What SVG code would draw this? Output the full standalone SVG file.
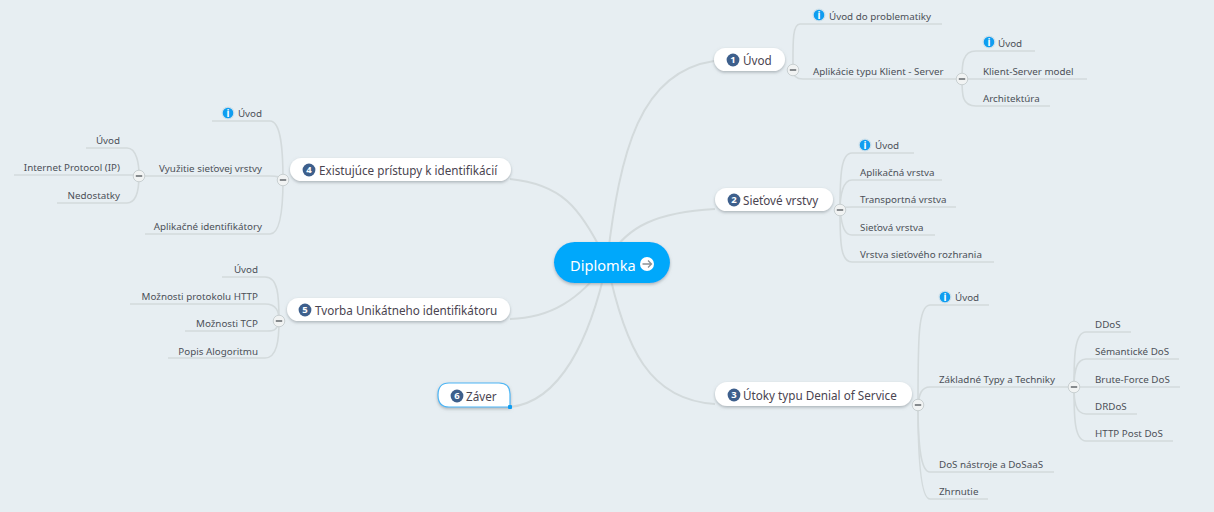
<svg xmlns="http://www.w3.org/2000/svg" width="1214" height="512" viewBox="0 0 1214 512">
<style>
text{font-family:"Noto Sans","DejaVu Sans",sans-serif}
.c{fill:none;stroke:#d3dadc;stroke-width:1.6}
.m{fill:none;stroke:#d3dadc;stroke-width:2}
.t{font-size:9.8px;fill:#4c5058}
.e{text-anchor:end}
.n{fill:#fff;filter:url(#sh)}
.h{font-size:11.7px;fill:#4a4450}
.num{fill:#3d5f8c}
.nt{font-size:9.5px;fill:#fff;text-anchor:middle;font-weight:700}
.tg{fill:#f1f3f3;stroke:#c9d0d2;stroke-width:1}
.mn{stroke:#6c7074;stroke-width:1.6}
.ib{fill:#0f9df0;stroke:#cfe0ea;stroke-width:1.2}
.it{font-size:10px;font-weight:700;fill:#fff;text-anchor:middle}
</style>
<defs>
<filter id="sh" x="-20%" y="-30%" width="140%" height="170%"><feDropShadow dx="0" dy="1.5" stdDeviation="1.5" flood-color="#7a8488" flood-opacity=".55"/></filter>
<g id="tog"><circle r="5.8" class="tg"/><path d="M-3.2 0H3.2" class="mn"/></g>
<g id="inf"><circle r="5.9" class="ib"/><text y="3.6" class="it">i</text></g>
</defs>
<rect width="1214" height="512" fill="#e7eef2"/>
<g id="connectors">
<path class="m" d="M607 262C620 150 640 72 714 61"/>
<path class="m" d="M607 262C625 225 660 212 715 209"/>
<path class="m" d="M607 262C625 350 650 400 715 404"/>
<path class="m" d="M607 262C580 205 560 184 510 179"/>
<path class="m" d="M607 262C580 300 550 318 510 319"/>
<path class="m" d="M607 262C590 340 560 402 510 407"/>
<path class="c" d="M793 70C793 45 792 24 800 24H942"/>
<path class="c" d="M793 70C793 76 796 79 803 79H957"/>
<path class="c" d="M962 79C962 65 962 51 976 51H1035"/>
<path class="c" d="M957 79H1087"/>
<path class="c" d="M962 79C962 95 962 106 976 106H1050"/>
<path class="c" d="M840 210C840 175 841 153 852 153H914"/>
<path class="c" d="M840 210C840 195 843 180 852 180H942"/>
<path class="c" d="M840 210C842 207 845 207 852 207H956"/>
<path class="c" d="M840 210C842 228 845 235 852 235H935"/>
<path class="c" d="M840 210C840 245 841 262 852 262H994"/>
<path class="c" d="M918 405C918 340 918 305 930 305H989"/>
<path class="c" d="M918 405C919 395 921 387 930 387H1068"/>
<path class="c" d="M918 405C918 440 920 472 930 472H1054"/>
<path class="c" d="M918 405C918 450 920 499 930 499H988"/>
<path class="c" d="M1074 387C1074 360 1074 332 1086 332H1131"/>
<path class="c" d="M1074 387C1074 375 1075 359 1086 359H1179"/>
<path class="c" d="M1068 387H1180"/>
<path class="c" d="M1074 387C1074 400 1075 414 1086 414H1137"/>
<path class="c" d="M1074 387C1074 415 1074 441 1086 441H1173"/>
<path class="c" d="M283 180C283 150 281 121 270 121H212"/>
<path class="c" d="M283 180C280 177 278 176 270 176H145"/>
<path class="c" d="M283 180C283 205 281 234 270 234H145"/>
<path class="c" d="M139 175C139 165 137 148 127 148H86"/>
<path class="c" d="M145 175H14"/>
<path class="c" d="M139 175C139 190 137 203 127 203H57"/>
<path class="c" d="M279 321C279 295 278 277 265 277H222"/>
<path class="c" d="M279 321C279 312 277 304 265 304H130"/>
<path class="c" d="M279 321C277 332 272 331 265 331H185"/>
<path class="c" d="M279 321C279 340 277 358 265 358H168"/>
</g>
<g id="root"><rect x="554" y="242" width="116" height="41" rx="20.5" fill="#05a8fb" filter="url(#sh)"/><text x="570" y="271" font-size="14.6" fill="#fff">Diplomka</text><circle cx="647" cy="264" r="7" fill="#fff"/><path d="M642.5 264H651M648 260.5L651.5 264L648 267.5" fill="none" stroke="#8b9195" stroke-width="1.3"/></g>
<g id="n1"><rect class="n" x="714" y="48" width="71" height="23" rx="11.5"/><circle class="num" cx="733" cy="60" r="6.4"/><text class="nt" x="733" y="63.4">1</text><text class="h" x="743" y="65">Úvod</text><use href="#tog" x="793" y="70"/></g>
<g id="n2"><rect class="n" x="715" y="188" width="118" height="23" rx="11.5"/><circle class="num" cx="734" cy="200" r="6.4"/><text class="nt" x="734" y="203.4">2</text><text class="h" x="743" y="205">Sieťové vrstvy</text><use href="#tog" x="840" y="210"/></g>
<g id="n3"><rect class="n" x="715" y="382" width="197" height="24" rx="12"/><circle class="num" cx="734" cy="395" r="6.4"/><text class="nt" x="734" y="398.4">3</text><text class="h" x="743" y="400">Útoky typu Denial of Service</text><use href="#tog" x="918" y="405"/></g>
<g id="n4"><rect class="n" x="290" y="158" width="221" height="23" rx="11.5"/><circle class="num" cx="309" cy="170" r="6.4"/><text class="nt" x="309" y="173.4">4</text><text class="h" x="319" y="175">Existujúce prístupy k identifikácií</text><use href="#tog" x="283" y="180"/></g>
<g id="n5"><rect class="n" x="287" y="298" width="223" height="23" rx="11.5"/><circle class="num" cx="305" cy="310" r="6.4"/><text class="nt" x="305" y="313.4">5</text><text class="h" x="315" y="315">Tvorba Unikátneho identifikátoru</text><use href="#tog" x="279" y="321"/></g>
<g id="n6"><path d="M449 383H499Q510 383 510 394V407H449Q438 407 438 395Q438 383 449 383Z" fill="#fff" stroke="#4db6f5" stroke-width="1.2" filter="url(#sh)"/><circle class="num" cx="457" cy="396" r="6.4"/><text class="nt" x="457" y="399.4">6</text><text class="h" x="466" y="401">Záver</text><rect x="508" y="405" width="4" height="4" rx="1" fill="#0d9df2"/></g>
<g id="t1a"><use href="#inf" x="819" y="15"/><text class="t" x="829" y="20">Úvod do problematiky</text></g>
<g id="t1b"><text class="t" x="813" y="75">Aplikácie typu Klient - Server</text><use href="#tog" x="962" y="79"/></g>
<g id="t1b1"><use href="#inf" x="989" y="42"/><text class="t" x="998" y="47">Úvod</text></g>
<g id="t1b2"><text class="t" x="983" y="75">Klient-Server model</text></g>
<g id="t1b3"><text class="t" x="983" y="102">Architektúra</text></g>
<g id="t2a"><use href="#inf" x="865" y="145"/><text class="t" x="875" y="149">Úvod</text></g>
<g id="t2b"><text class="t" x="860" y="176">Aplikačná vrstva</text></g>
<g id="t2c"><text class="t" x="860" y="203">Transportná vrstva</text></g>
<g id="t2d"><text class="t" x="860" y="231">Sieťová vrstva</text></g>
<g id="t2e"><text class="t" x="860" y="258">Vrstva sieťového rozhrania</text></g>
<g id="t3a"><use href="#inf" x="945" y="297"/><text class="t" x="955" y="301">Úvod</text></g>
<g id="t3b"><text class="t" x="939" y="383">Základné Typy a Techniky</text><use href="#tog" x="1074" y="387"/></g>
<g id="t3b1"><text class="t" x="1095" y="328">DDoS</text></g>
<g id="t3b2"><text class="t" x="1095" y="355">Sémantické DoS</text></g>
<g id="t3b3"><text class="t" x="1095" y="383">Brute-Force DoS</text></g>
<g id="t3b4"><text class="t" x="1095" y="410">DRDoS</text></g>
<g id="t3b5"><text class="t" x="1095" y="437">HTTP Post DoS</text></g>
<g id="t3c"><text class="t" x="939" y="468">DoS nástroje a DoSaaS</text></g>
<g id="t3d"><text class="t" x="939" y="495">Zhrnutie</text></g>
<g id="t4a"><use href="#inf" x="228" y="113"/><text class="t e" x="262" y="117">Úvod</text></g>
<g id="t4b"><text class="t e" x="262" y="172">Využitie sieťovej vrstvy</text><use href="#tog" x="139" y="176"/></g>
<g id="t4b1"><text class="t e" x="120" y="144">Úvod</text></g>
<g id="t4b2"><text class="t e" x="120" y="171">Internet Protocol (IP)</text></g>
<g id="t4b3"><text class="t e" x="120" y="199">Nedostatky</text></g>
<g id="t4c"><text class="t e" x="262" y="230">Aplikačné identifikátory</text></g>
<g id="t5a"><text class="t e" x="258" y="273">Úvod</text></g>
<g id="t5b"><text class="t e" x="258" y="300">Možnosti protokolu HTTP</text></g>
<g id="t5c"><text class="t e" x="258" y="327">Možnosti TCP</text></g>
<g id="t5d"><text class="t e" x="258" y="355">Popis Alogoritmu</text></g>
</svg>
